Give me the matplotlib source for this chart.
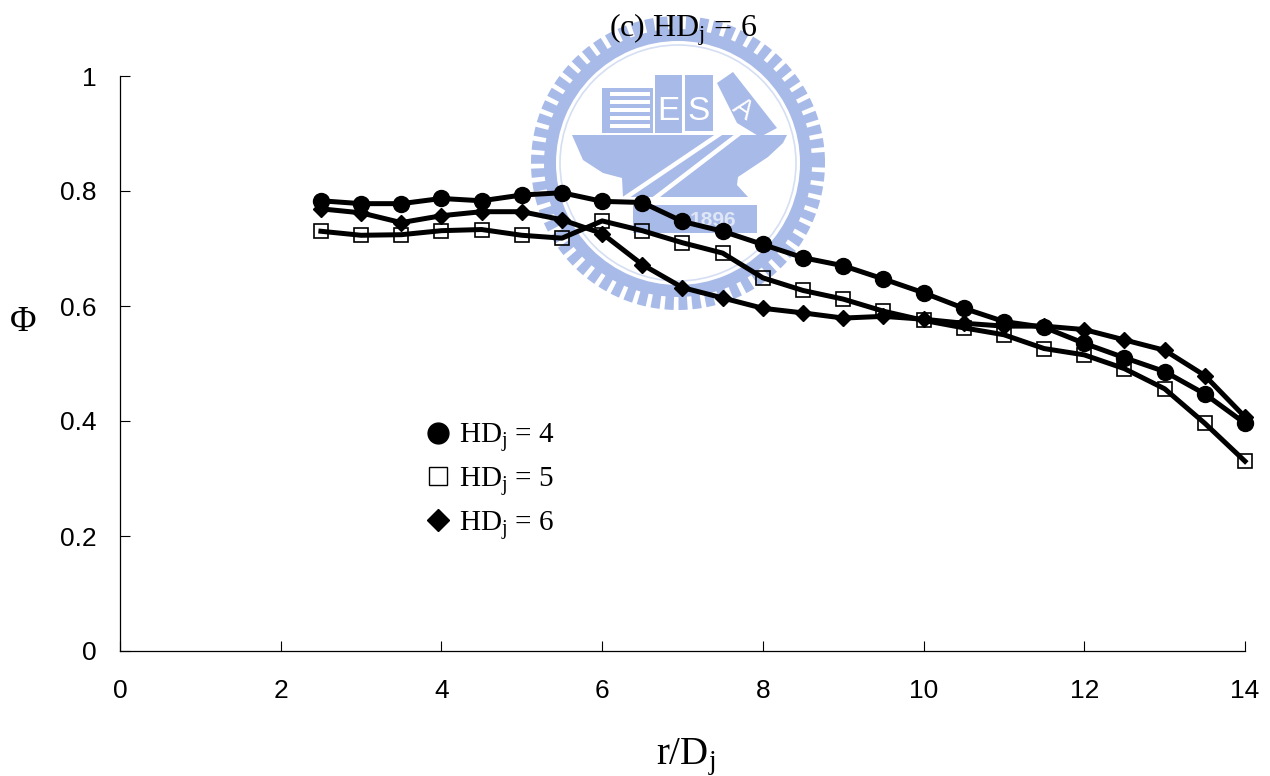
import numpy as np
import matplotlib
matplotlib.use("Agg")
import matplotlib.pyplot as plt
from matplotlib.patches import Polygon, Wedge, Circle, Rectangle

plt.rcParams['mathtext.fontset'] = 'custom'
plt.rcParams['mathtext.rm'] = 'Liberation Serif'
plt.rcParams['mathtext.it'] = 'Liberation Serif'
plt.rcParams['font.family'] = ['Liberation Sans', 'DejaVu Sans']

r_over_d = [2.5, 3, 3.5, 4, 4.5, 5, 5.5, 6, 6.5, 7, 7.5, 8, 8.5, 9, 9.5, 10, 10.5, 11, 11.5, 12, 12.5, 13, 13.5, 14]
hd4 = [.783, .778, .778, .787, .783, .793, .797, .782, .780, .747, .730, .707, .684, .670, .647, .623, .596, .573, .563, .535, .510, .486, .447, .396]
hd5 = [.730, .723, .724, .731, .733, .723, .718, .748, .731, .710, .692, .649, .627, .612, .591, .575, .562, .550, .526, .515, .491, .456, .396, .330]
hd6 = [.769, .762, .745, .757, .764, .764, .750, .726, .672, .632, .614, .596, .588, .579, .582, .577, .570, .565, .565, .559, .541, .523, .479, .407]
x_ticks = [0, 2, 4, 6, 8, 10, 12, 14]
y_ticks = [0, 0.2, 0.4, 0.6, 0.8, 1]
y_tick_labels = ['0', '0.2', '0.4', '0.6', '0.8', '1']
title = r'(c) HD$_{\mathrm{j}}$ = 6'
x_label = r'r/D$_{\mathrm{j}}$'
y_label = 'Φ'
labels = [r'HD$_{\mathrm{j}}$ = 4', r'HD$_{\mathrm{j}}$ = 5', r'HD$_{\mathrm{j}}$ = 6']

W, H = 1270, 776
fig = plt.figure(figsize=(W / 100, H / 100), dpi=100)

# watermark logo, drawn in pixel coordinates behind the chart
bg = fig.add_axes([0, 0, 1, 1], zorder=0)
bg.set_xlim(0, W)
bg.set_ylim(H, 0)
bg.axis('off')
blue = '#a8bae8'
cx, cy = 678, 163
for a in np.arange(0, 360, 5.5):
    bg.add_patch(Wedge((cx, cy), 147, a - 1.8, a + 1.8, width=15, fc=blue, ec='none'))
bg.add_patch(Wedge((cx, cy), 134, 0, 360, width=12, fc=blue, ec='none'))
bg.add_patch(Circle((cx, cy), 118, fc='none', ec='#d5def3', lw=1.2))
bg.add_patch(Polygon([(572, 135), (787, 135), (783, 143), (768, 157), (753, 167), (738, 177), (737, 185),
                      (748, 197), (623, 197), (622, 178), (603, 173), (583, 160)], fc=blue, ec='none'))
bg.add_patch(Rectangle((602, 88), 51, 45, fc=blue, ec='none'))
for yy in (92, 100, 108, 116, 124):
    bg.add_patch(Rectangle((610, yy), 40, 4, fc='white', ec='none'))
bg.add_patch(Rectangle((655, 75), 27, 58, fc=blue, ec='none'))
bg.add_patch(Rectangle((685, 75), 28, 56, fc=blue, ec='none'))
bg.add_patch(Polygon([(717, 83), (733, 72), (777, 128), (760, 137), (737, 123)], fc=blue, ec='none'))
bg.plot([625, 733, 740, 655], [198, 125, 133, 198], color='white', lw=3.2, solid_joinstyle='miter')
bg.add_patch(Rectangle((633, 205), 124, 28, fc=blue, ec='none'))
bg.text(713, 220, '1896', color='#dfe6f6', fontsize=15, fontweight='bold', ha='center', va='center')
for ch, px, py in (('E', 668, 111), ('S', 699, 111)):
    bg.text(px, py, ch, color='white', fontsize=24, ha='center', va='center')
bg.text(743, 110, 'A', color='white', fontsize=20, rotation=-35, ha='center', va='center')

ax = fig.add_axes([120 / W, 1 - 651 / H, 1125 / W, 575 / H], zorder=1)
ax.patch.set_alpha(0)
ax.set_xlim(0, 14)
ax.set_ylim(0, 1)
lw = 3.6
h4, = ax.plot(r_over_d, hd4, '-o', color='k', lw=lw, ms=11.5, clip_on=False, zorder=3)
h5, = ax.plot(r_over_d, hd5, '-s', color='k', lw=lw, ms=10.5, mfc='none', mew=1.2, clip_on=False, zorder=2)
h6, = ax.plot(r_over_d, hd6, '-D', color='k', lw=lw, ms=8.5, clip_on=False, zorder=2)

for s in ('top', 'right'):
    ax.spines[s].set_visible(False)
for s in ('left', 'bottom'):
    ax.spines[s].set_linewidth(0.9)
ax.set_xticks(x_ticks)
ax.set_yticks(y_ticks)
ax.set_yticklabels(y_tick_labels)
ax.tick_params(direction='in', length=7.5, width=0.8, labelsize=19, pad=0)
ax.tick_params(axis='x', pad=20)
ax.tick_params(axis='y', pad=17)

fig.text(683 / W, 1 - 30 / H, title, family='Liberation Serif', fontsize=23, ha='center', va='center', zorder=3)
fig.text(686 / W, 1 - 757 / H, x_label, family='Liberation Serif', fontsize=28, ha='center', va='center', zorder=3)
fig.text(23 / W, 1 - 322 / H, y_label, family='Liberation Serif', fontsize=26, ha='center', va='center', zorder=3)

handles = [
    plt.Line2D([], [], ls='none', marker='o', color='k', ms=15),
    plt.Line2D([], [], ls='none', marker='s', color='k', ms=13.5, mfc='none', mew=1.0),
    plt.Line2D([], [], ls='none', marker='D', color='k', ms=11),
]
leg = ax.legend(handles, labels, frameon=False, prop={'family': 'Liberation Serif', 'size': 21},
                loc='upper left', bbox_to_anchor=(420 / W, 1 - 421 / H), bbox_transform=fig.transFigure,
                labelspacing=0.37, handletextpad=0.15, handlelength=1.2, borderpad=0, borderaxespad=0)

fig.savefig('out.png', dpi=100)
